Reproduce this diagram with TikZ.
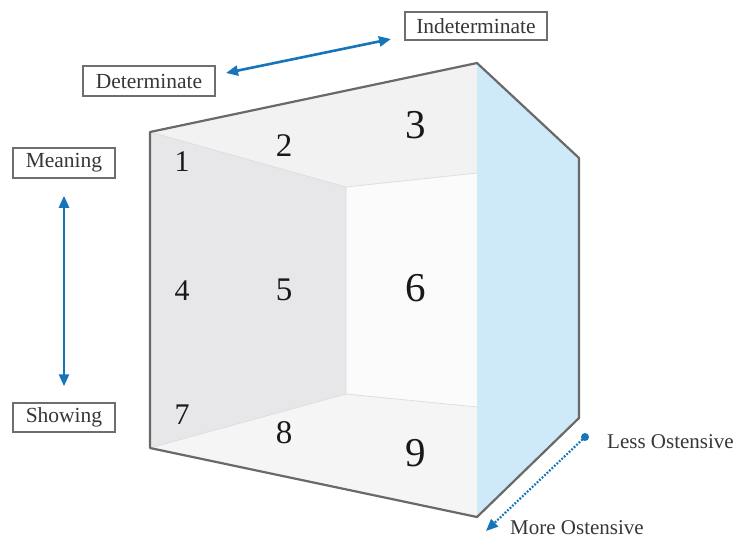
\documentclass[tikz,border=0pt]{standalone}
\usepackage{fontspec}
\setmainfont{Liberation Serif}
\usetikzlibrary{arrows.meta}
\definecolor{arrowblue}{RGB}{22,116,186}
\definecolor{sideblue}{RGB}{206,234,248}
\definecolor{wallgray}{RGB}{231,231,234}
\definecolor{ceilgray}{RGB}{242,242,242}
\definecolor{backgray}{RGB}{251,251,251}
\definecolor{floorgray}{RGB}{245,245,245}
\definecolor{edgegray}{RGB}{105,105,105}
\definecolor{boxgray}{RGB}{110,110,110}
\definecolor{textgray}{RGB}{55,55,55}
\tikzset{
  labelbox/.style={draw=boxgray, line width=1.5pt, fill=white, inner sep=0pt,
    text=textgray, font=\fontsize{21.5}{24}\selectfont},
  plainlabel/.style={text=textgray, font=\fontsize{21}{24}\selectfont, inner sep=0pt},
  numA/.style={font=\fontsize{30}{32}\selectfont, text=black!90, inner sep=0pt},
  numB/.style={font=\fontsize{33}{35}\selectfont, text=black!90, inner sep=0pt},
  numC/.style={font=\fontsize{41}{43}\selectfont, text=black!90, inner sep=0pt},
  bluearrow/.style={draw=arrowblue, line width=2.6pt, {Triangle[length=12pt,width=10pt]}-{Triangle[length=12pt,width=10pt]}},
  inneredge/.style={draw=black!13, line width=0.8pt},
  outline/.style={draw=edgegray, line width=2.2pt, line join=round}
}
\begin{document}
\begin{tikzpicture}[x=1pt,y=-1pt]
\useasboundingbox (0,0) rectangle (738,539);
% corners
\coordinate (TL) at (150,132);
\coordinate (TR) at (477,63);
\coordinate (BR) at (477,517);
\coordinate (BL) at (150,448);
\coordinate (RT) at (579,158);
\coordinate (RB) at (579,418);
\coordinate (ITL) at (346,187);
\coordinate (ITR) at (477,173);
\coordinate (IBR) at (477,407);
\coordinate (IBL) at (346,394);
% faces
\fill[backgray] (ITL) -- (ITR) -- (IBR) -- (IBL) -- cycle;
\fill[wallgray] (TL) -- (ITL) -- (IBL) -- (BL) -- cycle;
\fill[ceilgray] (TL) -- (TR) -- (ITR) -- (ITL) -- cycle;
\fill[floorgray] (BL) -- (IBL) -- (IBR) -- (BR) -- cycle;
\fill[sideblue] (TR) -- (RT) -- (RB) -- (BR) -- cycle;
% inner edges
\draw[inneredge] (TL) -- (ITL) -- (ITR);
\draw[inneredge] (ITL) -- (IBL) -- (IBR);
\draw[inneredge] (BL) -- (IBL);
% outline
\draw[outline] (TL) -- (TR) -- (RT) -- (RB) -- (BR) -- (BL) -- cycle;
% numbers
\node[numA] (n1) at (182,162) {1};
\node[numB] (n2) at (284,146) {2};
\node[numC] (n3) at (416,125) {3};
\node[numA] (n4) at (182,291) {4};
\node[numB] (n5) at (284,290) {5};
\node[numC] (n6) at (416,288) {6};
\node[numA] (n7) at (182,415) {7};
\node[numB] (n8) at (284,433) {8};
\node[numC] (n9) at (416,453) {9};
% label boxes
\node[labelbox, minimum width=142pt, minimum height=28pt] (indet) at (476,26) {Indeterminate};
\node[labelbox, minimum width=132pt, minimum height=30pt] (det) at (149,81) {Determinate};
\node[labelbox, minimum width=102pt, minimum height=30pt] (mean) at (64,163) {Meaning};
\node[labelbox, minimum width=102pt, minimum height=29pt] (show) at (64,417.5) {Showing};
% arrows
\coordinate (dA) at (226,73);
\coordinate (dB) at (391,39);
\draw[bluearrow] (dA) -- (dB);
\draw[bluearrow] ([yshift=-17pt]mean.south) -- ([yshift=16pt]show.north);
% ostensive
\node[plainlabel, anchor=west] (less) at (607,442) {Less Ostensive};
\node[plainlabel, anchor=west] (more) at (510,528) {More Ostensive};
\coordinate (oA) at (585,437);
\coordinate (oB) at (486,531);
\fill[arrowblue] (oA) circle (4pt);
\draw[draw=arrowblue, line width=2.2pt, dash pattern=on 1.8pt off 1.6pt, -{Triangle[length=12pt,width=10pt]}] (oA) -- (oB);
\end{tikzpicture}
\end{document}
